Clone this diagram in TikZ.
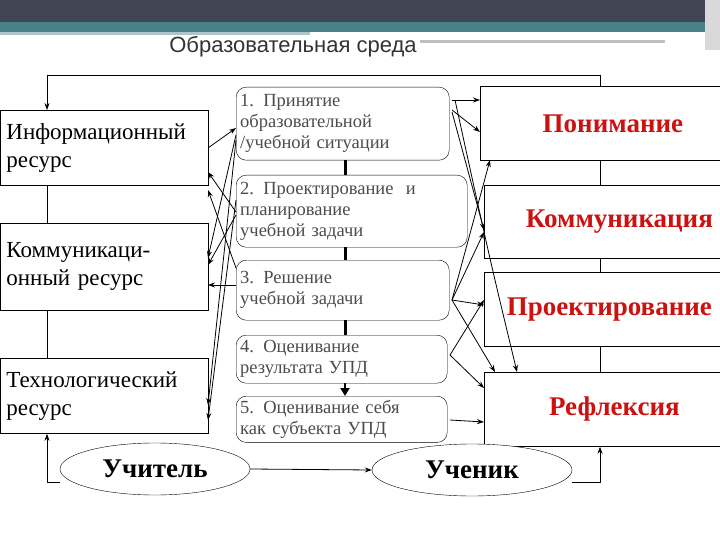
\documentclass[tikz,border=0pt]{standalone}
\usepackage{fontspec}
\setmainfont{Liberation Serif}
\newfontfamily\titlefont{Liberation Sans}
\usetikzlibrary{arrows.meta,shapes.geometric}
\definecolor{hdr}{HTML}{404553}
\definecolor{teal}{HTML}{4A8088}
\definecolor{redt}{HTML}{CC1111}
\begin{document}
\begin{tikzpicture}[x=1pt,y=-1pt,
  res/.style={draw,thick,rectangle,minimum width=208pt,anchor=north west,inner sep=5pt,align=left,font=\fontsize{23}{28}\selectfont,text width=196pt},
  stepbox/.style={draw,rounded corners=10pt,anchor=north west,inner sep=4pt,align=left,text=black!70,font=\fontsize{18.5}{21}\selectfont,text width=205pt},
  goal/.style={draw,thick,rectangle,anchor=north west,text=redt,font=\bfseries\fontsize{27}{32}\selectfont},
  ell/.style={draw,fill=white,ellipse,font=\bfseries\fontsize{27}{30}\selectfont,minimum width=190pt,minimum height=52pt,inner sep=0pt},
  ar/.style={-{Stealth[length=7pt,width=5pt]},thick},
  ln/.style={thick}]
\useasboundingbox (0,0) rectangle (720,540);
\fill[white] (0,0) rectangle (720,540);
% header
\fill[hdr] (0,0) rectangle (720,22);
\fill[teal] (0,22) rectangle (720,32);
\fill[teal!45] (0,32) rectangle (310,35);
\fill[black!25] (420,40) rectangle (665,43);
\fill[black!15] (705,0) rectangle (720,50);
\node[font=\titlefont\fontsize{22}{24}\selectfont,text=black!80] (title) at (293,47) {Образовательная среда};
% left resources
\node[res,minimum height=75pt] (inf) at (0,110) {Информационный\\ресурс};
\node[res,minimum height=87pt] (com) at (0,223) {Коммуникаци-\\онный ресурс\\[6pt]};
\node[res,minimum height=75pt] (tec) at (0,358) {Технологический\\ресурс};
\draw[ln] (inf.south -| 47,0) -- (com.north -| 47,0);
\draw[ln] (com.south -| 47,0) -- (tec.north -| 47,0);
% steps
\node[stepbox,minimum height=73pt,text width=205pt] (s1) at (236,87) {1. Принятие\\образовательной\\/учебной ситуации};
\node[stepbox,minimum height=72pt,text width=223pt] (s2) at (236,175) {2. Проектирование \ и\\планирование\\учебной задачи};
\node[stepbox,minimum height=60pt,text width=205pt] (s3) at (236,260) {3. Решение\\учебной задачи};
\node[stepbox,minimum height=48pt,text width=203pt] (s4) at (236,335) {4. Оценивание\\результата УПД};
\node[stepbox,minimum height=46pt,text width=203pt] (s5) at (236,396) {5. Оценивание себя\\как субъекта УПД};
\draw[line width=3pt] (345,160) -- (345,175);
\draw[line width=3pt] (345,247) -- (345,260);
\draw[line width=3pt] (345,320) -- (345,335);
\draw[-{Triangle[length=8pt,width=9pt]},line width=2pt] (345,383) -- (345,396);
% goals
\node[goal,minimum width=245pt,minimum height=74pt] (g1) at (480,86) {\hspace*{20pt}Понимание};
\node[goal,minimum width=240pt,minimum height=73pt] (g2) at (484,185) {\hspace*{30pt}Коммуникация};
\node[goal,minimum width=240pt,minimum height=74pt] (g3) at (484,272) {\hspace*{10pt}Проектирование};
\node[goal,minimum width=240pt,minimum height=74pt] (g4) at (484,372) {\hspace*{20pt}Рефлексия};
\draw[ln] (600,160) -- (600,185);
\draw[ln] (600,258) -- (600,272);
\draw[ln] (600,346) -- (600,372);
% frame
\coordinate (ft1) at (600,75); \coordinate (ft0) at (47,75);
\draw[ln] (600,86) -- (ft1) -- (ft0);
\draw[ar] (ft0) -- (inf.north -| 47,0);
% ellipses
\node[ell] (uch) at (155,469) {Учитель};
\node[ell,minimum width=200pt] (stu) at (472,470) {Ученик};
\coordinate (fb0) at (47,482);
\draw[ar] (uch.west |- fb0) -- (fb0) -- (tec.south -| 47,0);
\coordinate (fb1) at (600,482);
\draw[ar] (stu.east |- fb1) -- (fb1) -- (g4.south -| 600,0);
\draw[ar] (uch.east) -- (stu.west);
% left crossing arrows
\draw[ar] (208,148) -- (236,128);
\draw[ar] (236,212) -- (208,172);
\draw[ar] (236,268) -- (208,190);
\draw[ar] (236,135) -- (208,258);
\draw[ar] (236,215) -- (208,265);
\draw[ar] (236,285) -- (208,285);
\draw[ar] (236,140) -- (208,405);
\draw[ar] (236,200) -- (208,420);
% right arrows
\draw[ar] (452,100) -- (480,100);
\draw[ar] (452,110) -- (480,132);
\draw[ar] (452,112) -- (484,230);
\draw[ar] (455,100) .. controls (490,260) .. (517,372);
\draw[ar] (452,300) -- (490,160);
\draw[ar] (452,300) -- (484,232);
\draw[ar] (452,300) -- (484,305);
\draw[ar] (452,300) -- (495,372);
\draw[ar] (450,355) -- (484,300);
\draw[ar] (450,355) -- (484,388);
\draw[ar] (450,420) -- (484,422);
\end{tikzpicture}
\end{document}
